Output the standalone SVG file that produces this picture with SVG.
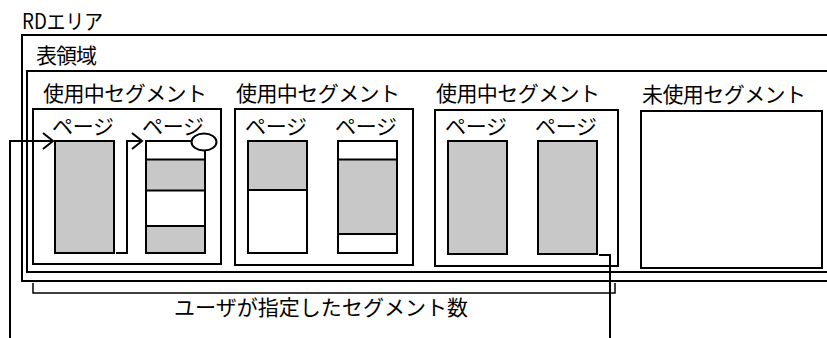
<svg xmlns="http://www.w3.org/2000/svg" width="827" height="338" viewBox="0 0 827 338">
<style>
text{font-family:"Noto Sans CJK JP","Noto Sans",sans-serif;font-size:21px;fill:#000}
.box{fill:#fff;stroke:#000;stroke-width:2}
.pg{fill:#fff;stroke:#000;stroke-width:2}
.g{fill:#c8c8c8;stroke:#000;stroke-width:2}
.ln{fill:none;stroke:#000;stroke-width:2}
.br{fill:none;stroke:#000;stroke-width:1.5}
</style>
<defs>
<marker id="chev" markerUnits="userSpaceOnUse" markerWidth="14" markerHeight="20" refX="11" refY="9" orient="auto" viewBox="0 0 14 20">
<path d="M1,1 L11,9 L1,17" fill="none" stroke="#000" stroke-width="2"/>
</marker>
</defs>
<rect width="827" height="338" fill="#fff"/>
<g id="rd-area">
<rect class="box" x="22" y="35" width="820" height="246"/>
<text x="22" y="28.5" textLength="81" lengthAdjust="spacingAndGlyphs">RDエリア</text>
</g>
<g id="table-area">
<rect class="box" x="27" y="71" width="810" height="201"/>
<text x="36" y="62.5" textLength="61">表領域</text>
</g>
<g id="seg1">
<rect class="box" x="33" y="109" width="188" height="155"/>
<text x="43" y="101" textLength="164">使用中セグメント</text>
<text x="52" y="133.5" textLength="62">ページ</text>
<text x="142" y="133.5" textLength="62">ページ</text>
<rect class="g" x="55" y="141" width="59" height="112"/>
<rect class="pg" x="146" y="141" width="59" height="112"/>
<rect class="g" x="146" y="159.5" width="59" height="31"/>
<rect class="g" x="146" y="226" width="59" height="27"/>
<ellipse cx="204" cy="142" rx="12.5" ry="8.5" fill="#fff" stroke="#000" stroke-width="2"/>
</g>
<g id="seg2">
<rect class="box" x="235" y="109" width="178" height="156"/>
<text x="236" y="101" textLength="164">使用中セグメント</text>
<text x="245" y="133.5" textLength="62">ページ</text>
<text x="335" y="133.5" textLength="62">ページ</text>
<rect class="pg" x="248" y="141" width="59" height="112"/>
<rect class="g" x="248" y="141" width="59" height="49"/>
<rect class="pg" x="338" y="141" width="59" height="112"/>
<rect class="g" x="338" y="159.5" width="59" height="74.5"/>
</g>
<g id="seg3">
<rect class="box" x="435" y="110" width="183" height="156"/>
<text x="436" y="101" textLength="164">使用中セグメント</text>
<text x="445" y="133.5" textLength="62">ページ</text>
<text x="535" y="133.5" textLength="62">ページ</text>
<rect class="g" x="448" y="141" width="59" height="113"/>
<rect class="g" x="538" y="141" width="59" height="113"/>
</g>
<g id="unused-seg">
<rect class="box" x="641" y="111" width="181" height="157"/>
<text x="642" y="101.5" textLength="164">未使用セグメント</text>
</g>
<g id="connectors">
<path class="ln" d="M10,338 V141 H53" marker-end="url(#chev)"/>
<path class="ln" d="M116,253 H127 V141 H142" marker-end="url(#chev)"/>
<path class="ln" d="M599,255 H610 V338"/>
<path class="br" d="M33,283 V293 H615 V283"/>
</g>
<g id="bracket-label">
<text x="174" y="314.5" textLength="294">ユーザが指定したセグメント数</text>
</g>
</svg>
